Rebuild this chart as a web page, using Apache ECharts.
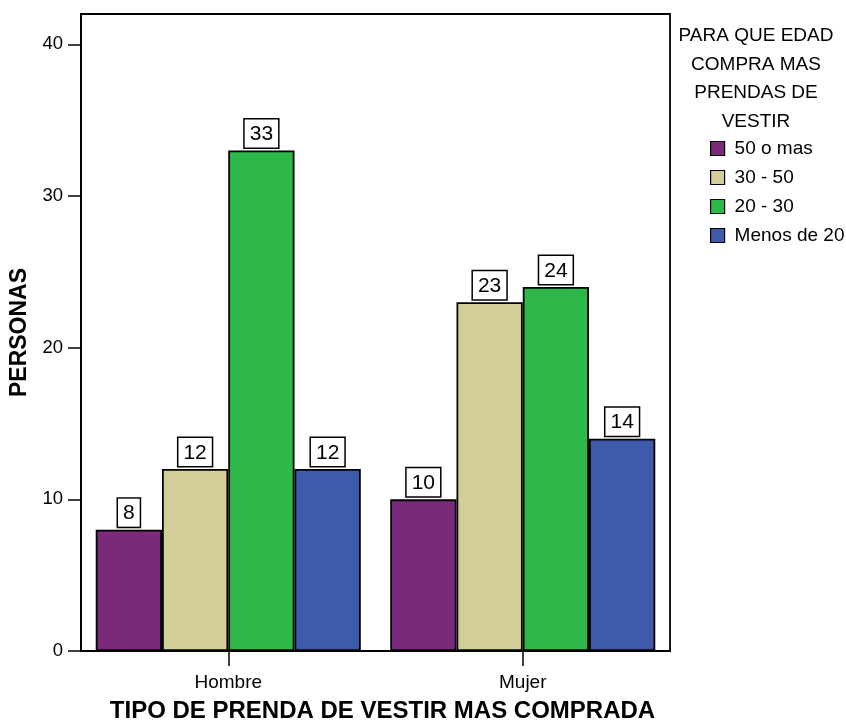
<!DOCTYPE html>
<html>
<head>
<meta charset="utf-8">
<script src="https://cdn.jsdelivr.net/npm/echarts@6/dist/echarts.min.js"></script>
<style>
  html, body { margin: 0; padding: 0; background: #fff; }
  #chart { width: 846px; height: 722px; }
</style>
</head>
<body>
<div id="chart"></div>
<script>
// Clothing type categories (x axis)
const categories = ['Hombre', 'Mujer'];
// Age groups (legend) and counts per category
const seriesNames = ['50 o mas', '30 - 50', '20 - 30', 'Menos de 20'];
const values50oMas = [8, 10];
const values30a50 = [12, 23];
const values20a30 = [33, 24];
const valuesMenos20 = [12, 14];
const yTicks = [0, 10, 20, 30, 40];

const colors = ['#7B297B', '#D3CE98', '#2FB84A', '#3E5AAA'];
const allValues = [values50oMas, values30a50, values20a30, valuesMenos20];
const FONT = 'Liberation Sans, Arial, sans-serif';

const chart = echarts.init(document.getElementById('chart'));

const series = seriesNames.map((name, i) => ({
  name: name,
  type: 'bar',
  data: allValues[i],
  barGap: '0%',
  barCategoryGap: '10%',
  itemStyle: { color: colors[i], borderColor: '#000', borderWidth: 1.8 },
  label: {
    show: true,
    position: 'top',
    distance: 3,
    color: '#000',
    fontFamily: FONT,
    fontSize: 21,
    lineHeight: 22,
    backgroundColor: '#fff',
    borderColor: '#000',
    borderWidth: 1.5,
    padding: [4, 5, 2, 5]
  }
}));

chart.setOption({
  animation: false,
  backgroundColor: '#fff',
  title: {
    text: 'PARA QUE EDAD\nCOMPRA MAS\nPRENDAS DE\nVESTIR',
    left: 751,
    top: 17,
    textAlign: 'center',
    textStyle: {
      fontFamily: FONT,
      fontSize: 19,
      fontWeight: 'normal',
      color: '#000',
      lineHeight: 28.5,
      align: 'center'
    }
  },
  legend: {
    orient: 'vertical',
    left: 705,
    top: 134,
    itemWidth: 14,
    itemHeight: 14,
    itemGap: 10,
    icon: 'rect',
    data: seriesNames,
    itemStyle: { borderColor: '#000', borderWidth: 1.2 },
    textStyle: { fontFamily: FONT, fontSize: 19, lineHeight: 19, color: '#000', padding: [0, 0, 0, 5] }
  },
  grid: {
    left: 81,
    right: 176,
    top: 14,
    bottom: 71,
    containLabel: false,
    outerBoundsMode: 'none',
    show: true,
    borderColor: '#000',
    borderWidth: 1.8,
    backgroundColor: 'transparent'
  },
  xAxis: {
    type: 'category',
    data: categories,
    name: 'TIPO DE PRENDA DE VESTIR MAS COMPRADA',
    nameLocation: 'middle',
    nameGap: 48,
    nameTextStyle: { fontFamily: FONT, fontSize: 24, fontWeight: 'bold', color: '#000', padding: [0, 0, 0, 14] },
    axisLine: { show: true, lineStyle: { color: '#000', width: 2 } },
    axisTick: { show: true, alignWithLabel: true, length: 15, lineStyle: { color: '#000', width: 1.5 } },
    axisLabel: { fontFamily: FONT, fontSize: 19, color: '#000', margin: 22 },
    splitLine: { show: false }
  },
  yAxis: {
    type: 'value',
    min: 0,
    max: 42,
    interval: 10,
    name: 'PERSONAS',
    nameLocation: 'middle',
    nameGap: 45,
    nameTextStyle: { fontFamily: FONT, fontSize: 23, fontWeight: 'bold', color: '#000' },
    axisLine: { show: true, lineStyle: { color: '#000', width: 1.8 } },
    axisTick: { show: true, inside: false, length: 13, customValues: yTicks, lineStyle: { color: '#000', width: 1.5 } },
    axisLabel: {
      fontFamily: FONT, fontSize: 18.5, color: '#000', margin: 18,
      customValues: yTicks,
      formatter: v => (yTicks.indexOf(v) >= 0 ? String(v) : '')
    },
    splitLine: { show: false }
  },
  series: series
});
</script>
</body>
</html>
